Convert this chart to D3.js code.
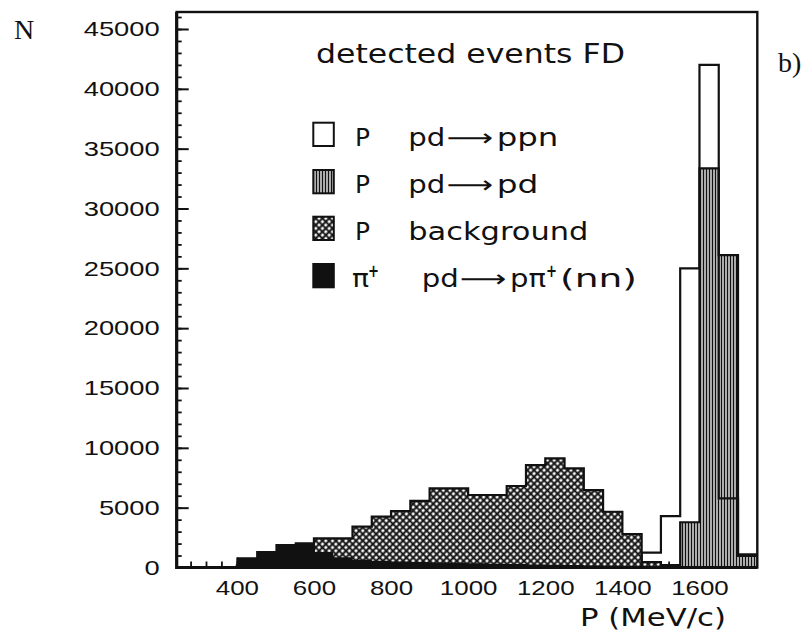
<!DOCTYPE html>
<html lang="en">
<head>
<meta charset="UTF-8">
<title>detected events FD</title>
<script src="https://cdn.jsdelivr.net/npm/d3@7"></script>
<style>
  body { margin: 0; background: #fff; }
  svg text { fill: #111; }
</style>
</head>
<body>
<div id="chart"></div>
<script>
// lower edge of each 50 MeV/c momentum bin
const binLow = [250, 300, 350, 400, 450, 500, 550, 600, 650, 700, 750, 800, 850, 900, 950,
                1000, 1050, 1100, 1150, 1200, 1250, 1300, 1350, 1400, 1450, 1500, 1550, 1600, 1650, 1700];
// counts per bin
const piPlus     = [0, 0, 0, 850, 1380, 1960, 2100, 1300, 850, 650, 560, 500, 460, 420, 390,
                    350, 320, 290, 260, 230, 200, 170, 140, 110, 70, 40, 0, 0, 0, 0];
const background = [0, 0, 0, 150, 300, 500, 800, 2440, 2440, 3410, 4250, 4720, 5560, 6620, 6620,
                    6060, 6060, 6810, 8560, 9120, 8290, 6470, 4660, 2800, 450, 200, 0, 0, 0, 0];
const pdPd       = [0, 0, 0, 0, 0, 0, 0, 0, 0, 0, 0, 0, 0, 0, 0,
                    0, 0, 0, 0, 0, 0, 0, 0, 0, 0, 0, 3780, 33360, 26110, 960];
const pdPpn      = [0, 0, 0, 0, 0, 0, 0, 0, 0, 0, 0, 0, 0, 0, 0,
                    0, 0, 0, 0, 0, 0, 0, 0, 0, 1250, 4300, 25000, 42000, 5780, 1100];

const yTicks = [0, 5000, 10000, 15000, 20000, 25000, 30000, 35000, 40000, 45000];
const xTicks = [400, 600, 800, 1000, 1200, 1400, 1600];

const binWidth = 50;
const W = 809, H = 638;

const x = d3.scaleLinear().domain([244, 1750]).range([176.7, 757.3]);
const y = d3.scaleLinear().domain([0, 46420]).range([567.5, 12]);

const svg = d3.select("#chart").append("svg")
    .attr("width", W)
    .attr("height", H)
    .style("font-family", "'DejaVu Sans', sans-serif");

const defs = svg.append("defs");

// cross hatch for the background
const xh = defs.append("pattern")
    .attr("id", "xhatch")
    .attr("patternUnits", "userSpaceOnUse")
    .attr("width", 4.75).attr("height", 4.75)
    .attr("patternTransform", "rotate(45)");
xh.append("rect").attr("width", 4.75).attr("height", 4.75).attr("fill", "#fff");
xh.append("path")
    .attr("d", "M0,2.375H4.75M2.375,0V4.75")
    .attr("stroke", "#111").attr("stroke-width", 2);

// vertical lines for pd -> pd
const vh = defs.append("pattern")
    .attr("id", "vhatch")
    .attr("patternUnits", "userSpaceOnUse")
    .attr("width", 3).attr("height", 10);
vh.append("rect").attr("width", 3).attr("height", 10).attr("fill", "#fff");
vh.append("line")
    .attr("x1", 1.5).attr("x2", 1.5).attr("y1", 0).attr("y2", 10)
    .attr("stroke", "#111").attr("stroke-width", 1.7);

// ticks first, bars cover them
svg.append("g")
    .attr("transform", "translate(" + x.range()[0] + ",0)")
    .call(d3.axisLeft(y).tickValues(d3.range(0, 46001, 1000)).tickSize(-5).tickFormat(""))
    .call(g => g.select(".domain").remove())
    .selectAll("line").attr("stroke", "#111").attr("stroke-width", 1.8);

const yAxis = svg.append("g")
    .attr("transform", "translate(" + x.range()[0] + ",0)")
    .call(d3.axisLeft(y).tickValues(yTicks).tickSize(-12).tickPadding(17).tickFormat(d => d));
yAxis.select(".domain").remove();
yAxis.selectAll("line").attr("stroke", "#111").attr("stroke-width", 2);
yAxis.selectAll("text")
    .style("font-size", "21px")
    .attr("textLength", d => String(d).length * 15.2)
    .attr("lengthAdjust", "spacingAndGlyphs");

svg.append("g")
    .attr("transform", "translate(0," + y(0) + ")")
    .call(d3.axisBottom(x).tickValues(d3.range(280, 1750, 40)).tickSize(-6).tickFormat(""))
    .call(g => g.select(".domain").remove())
    .selectAll("line").attr("stroke", "#111").attr("stroke-width", 1.8);

const xAxis = svg.append("g")
    .attr("transform", "translate(0," + y(0) + ")")
    .call(d3.axisBottom(x).tickValues(xTicks).tickSize(-10).tickPadding(12.5).tickFormat(d => d));
xAxis.select(".domain").remove();
xAxis.selectAll("line").attr("stroke", "#111").attr("stroke-width", 2);
xAxis.selectAll("text")
    .style("font-size", "21px")
    .attr("textLength", d => String(d).length * 14.4)
    .attr("lengthAdjust", "spacingAndGlyphs");

// histograms, overlaid
function stepPoints(vals) {
  const pts = binLow.map((b, i) => ({ p: b, n: vals[i] }));
  pts.push({ p: binLow[binLow.length - 1] + binWidth, n: vals[vals.length - 1] });
  return pts;
}
const area = d3.area().curve(d3.curveStepAfter)
    .x(d => x(d.p)).y0(y(0)).y1(d => y(d.n));
const line = d3.line().curve(d3.curveStepAfter)
    .x(d => x(d.p)).y(d => y(d.n));

svg.append("path").attr("d", area(stepPoints(background))).attr("fill", "url(#xhatch)");
svg.append("path").attr("d", line(stepPoints(background)))
    .attr("fill", "none").attr("stroke", "#111").attr("stroke-width", 2.2);

svg.append("path").attr("d", area(stepPoints(piPlus))).attr("fill", "#111");

svg.append("path").attr("d", area(stepPoints(pdPd))).attr("fill", "url(#vhatch)");
svg.append("path").attr("d", line(stepPoints(pdPd)))
    .attr("fill", "none").attr("stroke", "#111").attr("stroke-width", 2.2);

svg.append("path").attr("d", line(stepPoints(pdPpn)))
    .attr("fill", "none").attr("stroke", "#111").attr("stroke-width", 2.2);

// frame
svg.append("rect")
    .attr("x", x.range()[0]).attr("y", y.range()[1])
    .attr("width", x.range()[1] - x.range()[0])
    .attr("height", y.range()[0] - y.range()[1])
    .attr("fill", "none").attr("stroke", "#111").attr("stroke-width", 2.4);
svg.append("path")
    .attr("d", "M" + x.range()[0] + "," + y.range()[1] + "V" + y(0) + "H" + x.range()[1])
    .attr("fill", "none").attr("stroke", "#111").attr("stroke-width", 3.2);

// title inside the frame
svg.append("text")
    .attr("x", 316).attr("y", 63)
    .style("font-size", "26px")
    .attr("textLength", 309).attr("lengthAdjust", "spacingAndGlyphs")
    .text("detected events FD");

// legend
const legendFill = ["#fff", "url(#vhatch)", "url(#xhatch)", "#111"];
const legendTop = [122.7, 170, 216.7, 264];
const legendBase = [146, 193, 240, 286.5];

const leg = svg.append("g");
leg.selectAll("rect")
    .data(legendFill)
    .enter()
    .append("rect")
      .attr("x", 313.3)
      .attr("y", (d, i) => legendTop[i])
      .attr("width", 20.5).attr("height", 23.3)
      .attr("fill", d => d)
      .attr("stroke", "#111").attr("stroke-width", 2);

function piece(xp, yp, len, txt, size) {
  return leg.append("text")
      .attr("x", xp).attr("y", yp)
      .style("font-size", (size || 24) + "px")
      .attr("textLength", len).attr("lengthAdjust", "spacingAndGlyphs")
      .text(txt);
}

piece(355, legendBase[0], 15, "P");
piece(408.3, legendBase[0], 37, "pd");
piece(446.7, legendBase[0], 46.6, "\u27F6");
piece(496.7, legendBase[0], 61.6, "ppn");

piece(355, legendBase[1], 15, "P");
piece(408.3, legendBase[1], 37, "pd");
piece(446.7, legendBase[1], 46.6, "\u27F6");
piece(496.7, legendBase[1], 41.6, "pd");

piece(355, legendBase[2], 15, "P");
piece(408.3, legendBase[2], 180, "background");

piece(352, legendBase[3], 17, "\u03C0");
piece(368, legendBase[3] - 10, 11, "+", 18).style("font-weight", "bold");

piece(421.7, legendBase[3], 37, "pd");
piece(460, legendBase[3], 46.6, "\u27F6");
piece(510, legendBase[3], 36, "p\u03C0");
piece(546, legendBase[3] - 10, 11, "+", 18).style("font-weight", "bold");
piece(560, legendBase[3], 77, "(nn)");

// axis titles and panel mark
svg.append("text")
    .attr("x", 580).attr("y", 626)
    .style("font-size", "25px")
    .attr("textLength", 146).attr("lengthAdjust", "spacingAndGlyphs")
    .text("P (MeV/c)");

svg.append("text")
    .attr("x", 14).attr("y", 39)
    .style("font-family", "'Liberation Serif', serif")
    .style("font-size", "28px")
    .text("N");

svg.append("text")
    .attr("x", 778).attr("y", 72)
    .style("font-family", "'Liberation Serif', serif")
    .style("font-size", "28px")
    .text("b)");
</script>
</body>
</html>
